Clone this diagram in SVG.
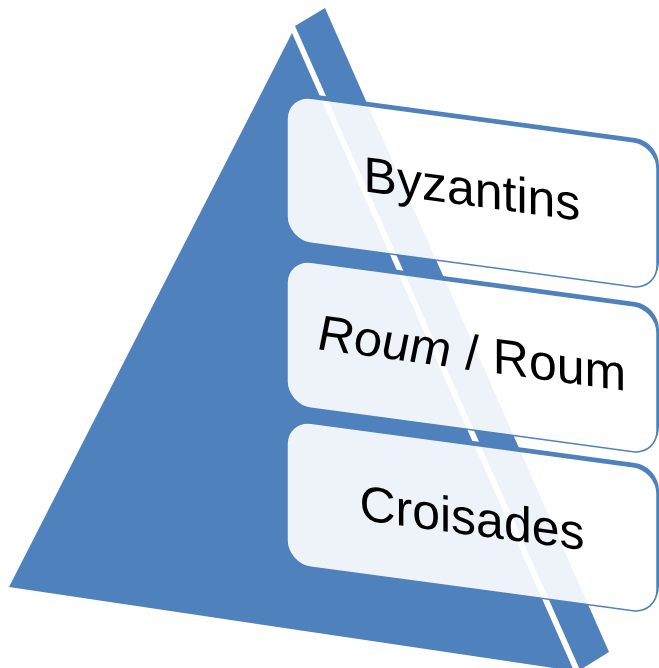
<svg xmlns="http://www.w3.org/2000/svg" width="659" height="668" viewBox="0 0 659 668">
<style>
.face{fill:#4F81BD}
.back{fill:#4F81BD}
.front{fill:#FFFFFF;fill-opacity:0.9;stroke:#4F81BD;stroke-width:1.5}
.lbl{font-family:"Liberation Sans",Arial,sans-serif;font-size:50px;fill:#000000;text-anchor:middle}
</style>
<defs>
<mask id="cut" maskUnits="userSpaceOnUse" x="0" y="0" width="700" height="700">
<rect x="0" y="0" width="700" height="700" fill="#fff"/>
<rect x="287" y="95" width="370" height="145" rx="24" ry="24" fill="#000"/>
<rect x="287" y="259" width="370" height="146" rx="24" ry="24" fill="#000"/>
<rect x="287" y="420" width="370" height="144" rx="24" ry="24" fill="#000"/>
</mask>
</defs>
<rect width="659" height="668" fill="#FFFFFF"/>
<g id="pyramid">
<polygon class="face" points="292,33 9,587 574,671"/>
<polygon class="face" points="295,26 325,8 609,652 580,670"/>
</g>
<g transform="matrix(1 0.135 0 1 0 -38.745)">
<g mask="url(#cut)">
<rect class="back" x="289" y="91" width="370" height="145" rx="24" ry="24"/>
<rect class="back" x="289" y="255" width="370" height="146" rx="24" ry="24"/>
<rect class="back" x="289" y="416" width="370" height="144" rx="24" ry="24"/>
</g>
<g id="byzantins">
<rect class="front" x="287" y="95" width="370" height="145" rx="24" ry="24"/>
<text class="lbl" x="472" y="181">Byzantins</text>
</g>
<g id="roum">
<rect class="front" x="287" y="259" width="370" height="146" rx="24" ry="24"/>
<text class="lbl" x="472" y="345"><tspan font-style="italic">Roum</tspan> / Roum</text>
</g>
<g id="croisades">
<rect class="front" x="287" y="420" width="370" height="144" rx="24" ry="24"/>
<text class="lbl" x="472" y="510">Croisades</text>
</g>
</g>
</svg>
